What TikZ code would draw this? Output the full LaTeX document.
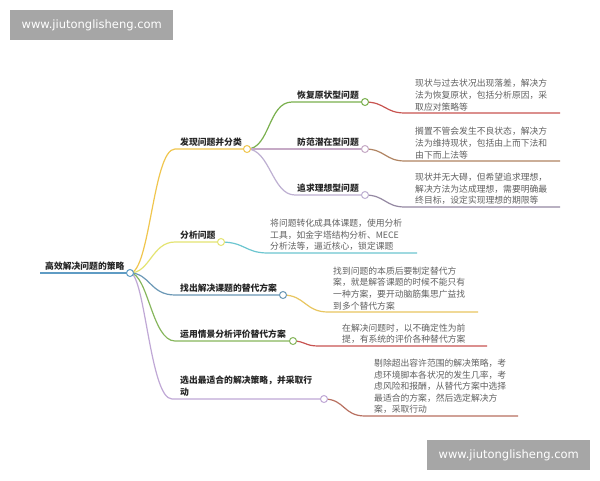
\documentclass[tikz,border=0pt]{standalone}
\usepackage{fontspec}
\newfontfamily\cjk{Noto Sans CJK SC}
\newfontfamily\wmfont{DejaVu Sans}
\definecolor{cRoot}{HTML}{5F9CC4}
\definecolor{cB1}{HTML}{F0C64E}
\definecolor{cB2}{HTML}{E4E472}
\definecolor{cB3}{HTML}{6B98B6}
\definecolor{cB4}{HTML}{86B65C}
\definecolor{cB5}{HTML}{C0A8D6}
\definecolor{cS1}{HTML}{7AB04E}
\definecolor{cS2}{HTML}{C6AAC6}
\definecolor{cS3}{HTML}{BEB0D2}
\definecolor{cL1}{HTML}{C85450}
\definecolor{cL2}{HTML}{B08462}
\definecolor{cL3}{HTML}{9488A2}
\definecolor{cL4}{HTML}{6CC6D0}
\definecolor{cL5}{HTML}{E8C660}
\definecolor{cL6}{HTML}{C85452}
\definecolor{cL7}{HTML}{B87060}
\definecolor{wmgray}{HTML}{A6A6A6}
\begin{document}
\begin{tikzpicture}[x=1pt,y=-1pt,
  dot/.style={circle,draw=#1,fill=white,inner sep=0pt,minimum size=7pt,line width=1pt},
  conn/.style={draw=#1,line width=1.2pt},
  lab/.style={font=\cjk\bfseries\fontsize{8.8}{12}\selectfont,text=black!85,inner sep=0pt,anchor=south west,align=left},
  leaf/.style={font=\cjk\fontsize{8.8}{11.6}\selectfont,text=black!62,inner sep=0pt,anchor=south west,align=left},
  wm/.style={fill=wmgray,text=white,font=\wmfont\fontsize{11.5}{13}\selectfont,minimum width=163pt,minimum height=30pt,inner sep=0pt,anchor=north west}]
\useasboundingbox (0,0) rectangle (600,480);
\fill[white] (0,0) rectangle (600,480);

% watermarks
\node[wm] (wm1) at (10,10) {www.jiutonglisheng.com};
\node[wm] (wm2) at (427,440) {www.jiutonglisheng.com};

% coordinates
\coordinate (rs) at (40,273);   \coordinate (rc) at (130,273);
\coordinate (b1s) at (175,149); \coordinate (b1c) at (247,149);
\coordinate (b2s) at (175,242); \coordinate (b2c) at (221,242);
\coordinate (b3s) at (175,295); \coordinate (b3c) at (283,295);
\coordinate (b4s) at (175,341); \coordinate (b4c) at (293,341);
\coordinate (b5s) at (172,399); \coordinate (b5c) at (324,399);
\coordinate (s1s) at (292,102); \coordinate (s1c) at (365,102);
\coordinate (s2s) at (295,149); \coordinate (s2c) at (365,149);
\coordinate (s3s) at (295,195); \coordinate (s3c) at (365,195);
\coordinate (l1s) at (405,113); \coordinate (l1e) at (560,113);
\coordinate (l2s) at (405,161); \coordinate (l2e) at (560,161);
\coordinate (l3s) at (405,207); \coordinate (l3e) at (560,207);
\coordinate (l4s) at (268,253); \coordinate (l4e) at (417,253);
\coordinate (l5s) at (328,312); \coordinate (l5e) at (478,312);
\coordinate (l6s) at (318,346); \coordinate (l6e) at (487,346);
\coordinate (l7s) at (365,416); \coordinate (l7e) at (518,416);

% connectors
\draw[conn=cRoot] (rs) -- (rc);
\draw[conn=cB1] (rc) .. controls (150,273) and (153,149) .. (b1s) -- (b1c);
\draw[conn=cB2] (rc) .. controls (150,273) and (152,242) .. (b2s) -- (b2c);
\draw[conn=cB3] (rc) .. controls (150,273) and (150,295) .. (b3s) -- (b3c);
\draw[conn=cB4] (rc) .. controls (148,273) and (152,341) .. (b4s) -- (b4c);
\draw[conn=cB5] (rc) .. controls (145,273) and (150,399) .. (b5s) -- (b5c);
\draw[conn=cS1] (b1c) .. controls (270,149) and (268,102) .. (s1s) -- (s1c);
\draw[conn=cS2] (b1c) -- (s2c);
\draw[conn=cS3] (b1c) .. controls (270,149) and (272,195) .. (s3s) -- (s3c);
\draw[conn=cL1] (s1c) .. controls (385,102) and (385,113) .. (l1s) -- (l1e);
\draw[conn=cL2] (s2c) .. controls (385,149) and (385,161) .. (l2s) -- (l2e);
\draw[conn=cL3] (s3c) .. controls (385,195) and (385,207) .. (l3s) -- (l3e);
\draw[conn=cL4] (b2c) .. controls (245,242) and (245,253) .. (l4s) -- (l4e);
\draw[conn=cL5] (b3c) .. controls (305,295) and (305,312) .. (l5s) -- (l5e);
\draw[conn=cL6] (b4c) .. controls (305,341) and (305,346) .. (l6s) -- (l6e);
\draw[conn=cL7] (b5c) .. controls (345,399) and (343,416) .. (l7s) -- (l7e);

% circles
\node[dot=cRoot] (nrc) at (rc) {};
\node[dot=cB1] (nb1) at (b1c) {};
\node[dot=cB2] (nb2) at (b2c) {};
\node[dot=cB3] (nb3) at (b3c) {};
\node[dot=cB4] (nb4) at (b4c) {};
\node[dot=cB5] (nb5) at (b5c) {};
\node[dot=cS1] (ns1) at (s1c) {};
\node[dot=cS2] (ns2) at (s2c) {};
\node[dot=cS3] (ns3) at (s3c) {};

% labels
\node[lab] (troot) at (45,271) {高效解决问题的策略};
\node[lab] (tb1) at (180,147) {发现问题并分类};
\node[lab] (tb2) at (180,240) {分析问题};
\node[lab] (tb3) at (180,293) {找出解决课题的替代方案};
\node[lab] (tb4) at (180,339) {运用情景分析评价替代方案};
\node[lab] (tb5) at (180,397) {选出最适合的解决策略，并采取行\\动};
\node[lab] (ts1) at (297,100) {恢复原状型问题};
\node[lab] (ts2) at (297,147) {防范潜在型问题};
\node[lab] (ts3) at (297,193) {追求理想型问题};

% leaves
\node[leaf] (tl1) at (415,111) {现状与过去状况出现落差，解决方\\法为恢复原状，包括分析原因，采\\取应对策略等};
\node[leaf] (tl2) at (415,159) {搁置不管会发生不良状态，解决方\\法为维持现状，包括由上而下法和\\由下而上法等};
\node[leaf] (tl3) at (415,205) {现状并无大碍，但希望追求理想，\\解决方法为达成理想，需要明确最\\终目标，设定实现理想的期限等};
\node[leaf] (tl4) at (270,251) {将问题转化成具体课题，使用分析\\工具，如金字塔结构分析、MECE\\分析法等，逼近核心，锁定课题};
\node[leaf] (tl5) at (333,310) {找到问题的本质后要制定替代方\\案，就是解答课题的时候不能只有\\一种方案，要开动脑筋集思广益找\\到多个替代方案};
\node[leaf] (tl6) at (342,344) {在解决问题时，以不确定性为前\\提，有系统的评价各种替代方案};
\node[leaf] (tl7) at (374,414) {剔除超出容许范围的解决策略，考\\虑环境脚本各状况的发生几率，考\\虑风险和报酬，从替代方案中选择\\最适合的方案，然后选定解决方\\案，采取行动};
\end{tikzpicture}
\end{document}
